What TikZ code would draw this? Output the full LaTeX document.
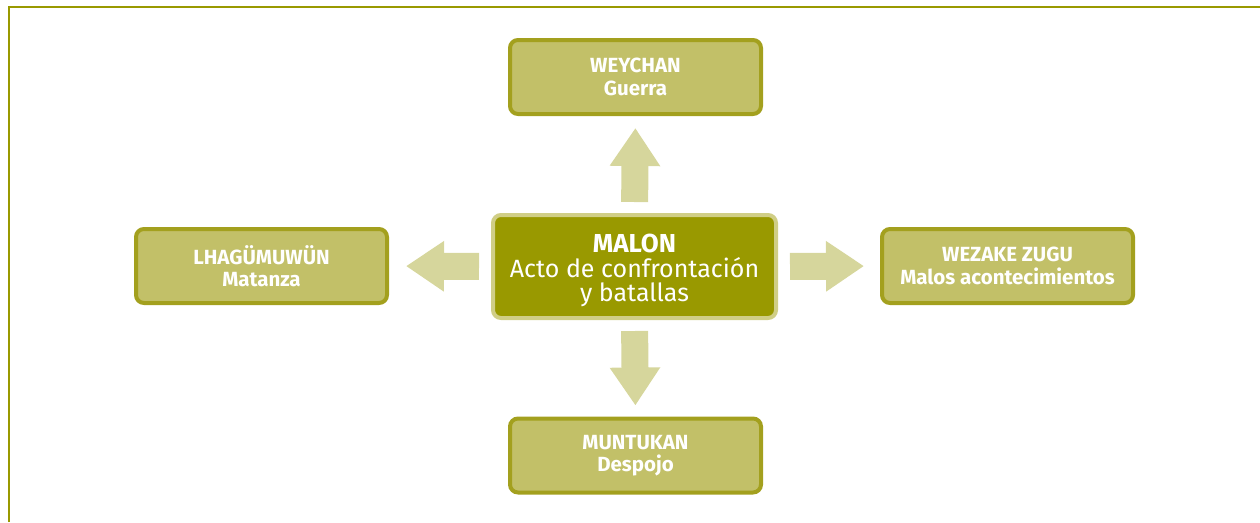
\documentclass[tikz,border=0pt]{standalone}
\usepackage{fontspec}
\setmainfont{Fira Sans}
\usetikzlibrary{arrows.meta}
\definecolor{olive}{HTML}{A3A01E}
\definecolor{boxfill}{HTML}{C2C068}
\definecolor{darkolive}{HTML}{999900}
\definecolor{lightolive}{HTML}{D0CE86}
\definecolor{arrowfill}{HTML}{D6D69C}

\begin{document}
\begin{tikzpicture}
[x=1pt,y=-1pt,
 box/.style={draw=olive,line width=4pt,fill=boxfill,rounded corners=8pt,
   minimum width=251pt,minimum height=74pt,inner sep=0pt,align=center,
   text=white,font=\fontsize{20.5}{22.5}\selectfont\bfseries},
 mainbox/.style={draw=lightolive,line width=4pt,fill=darkolive,rounded corners=8pt,
   minimum width=283pt,minimum height=103pt,inner sep=0pt,align=center,
   text=white,font=\fontsize{25}{24.5}\selectfont},
 bigarrow/.style={draw=arrowfill,line width=27pt,
   -{Triangle[width=48pt,length=38pt]}}]
\useasboundingbox (0,0) rectangle (1260,522);
% frame
\draw[darkolive,line width=2pt] (8.5,522) -- (8.5,6.5) -- (1260,6.5);
\node[mainbox] (mal) at (634.5,266.5) {\rule{0pt}{27pt}{\fontsize{26}{24.5}\selectfont\bfseries MALON}\\Acto de confrontación\\y batallas};
\node[box] (wey) at (635.5,77) {WEYCHAN\\Guerra};
\node[box] (lha) at (261.5,266) {LHAGÜMUWÜN\\Matanza};
\node[box] (wez) at (1007.5,266) {WEZAKE ZUGU\\Malos acontecimientos};
\node[box] (mun) at (635.5,455.5) {MUNTUKAN\\Despojo};
% arrows
\draw[bigarrow,shorten <=11pt,shorten >=12pt] (mal.north) -- (wey.south);
\draw[bigarrow,shorten <=11pt,shorten >=11pt] (mal.south) -- (mun.north);
\draw[bigarrow,shorten <=12pt,shorten >=17pt] (mal.west) -- (lha.east);
\draw[bigarrow,shorten <=12pt,shorten >=16pt] (mal.east) -- (wez.west);
\end{tikzpicture}
\end{document}
